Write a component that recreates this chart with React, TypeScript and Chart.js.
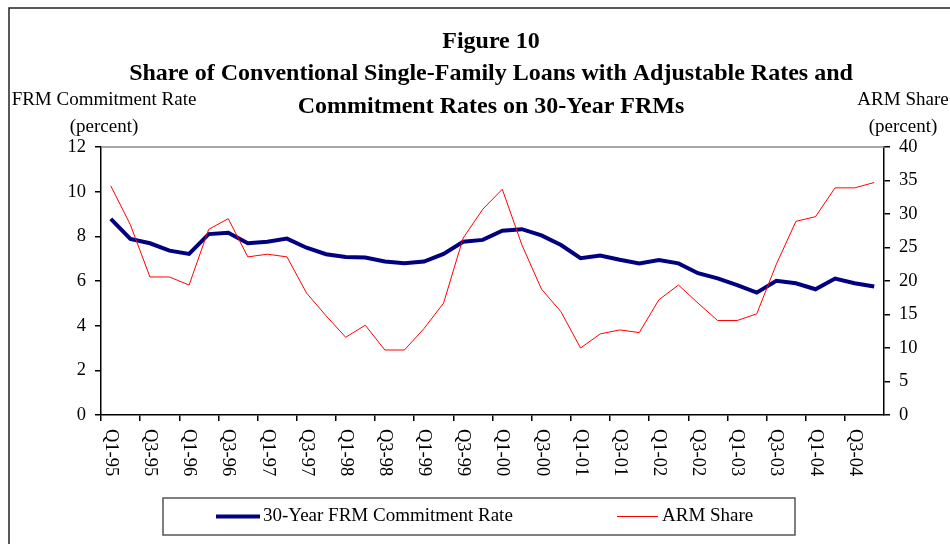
import React, { useEffect, useRef } from "react";
import { Chart, registerables } from "chart.js";

Chart.register(...registerables);

const QUARTERS: string[] = [
  "Q1-95", "Q2-95", "Q3-95", "Q4-95",
  "Q1-96", "Q2-96", "Q3-96", "Q4-96",
  "Q1-97", "Q2-97", "Q3-97", "Q4-97",
  "Q1-98", "Q2-98", "Q3-98", "Q4-98",
  "Q1-99", "Q2-99", "Q3-99", "Q4-99",
  "Q1-00", "Q2-00", "Q3-00", "Q4-00",
  "Q1-01", "Q2-01", "Q3-01", "Q4-01",
  "Q1-02", "Q2-02", "Q3-02", "Q4-02",
  "Q1-03", "Q2-03", "Q3-03", "Q4-03",
  "Q1-04", "Q2-04", "Q3-04", "Q4-04",
];

const FRM_RATE: number[] = [
  8.78, 7.88, 7.69, 7.36,
  7.21, 8.10, 8.16, 7.69,
  7.76, 7.90, 7.49, 7.20,
  7.07, 7.05, 6.87, 6.79,
  6.87, 7.21, 7.76, 7.84,
  8.25, 8.32, 8.04, 7.61,
  7.02, 7.14, 6.95, 6.79,
  6.94, 6.79, 6.35, 6.12,
  5.82, 5.48, 6.01, 5.90,
  5.63, 6.11, 5.90, 5.75,
];

const ARM_SHARE: number[] = [
  34.2, 28.4, 20.6, 20.6,
  19.4, 27.7, 29.3, 23.6,
  24.0, 23.6, 18.2, 14.8,
  11.6, 13.4, 9.7, 9.7,
  12.9, 16.7, 26.4, 30.7,
  33.7, 25.4, 18.8, 15.4,
  10.0, 12.1, 12.7, 12.3,
  17.2, 19.4, 16.7, 14.1,
  14.1, 15.1, 22.5, 28.9,
  29.6, 33.9, 33.9, 34.7,
];

const TITLE_LINES: string[] = [
  "Figure 10",
  "Share of Conventional Single-Family Loans with Adjustable Rates and",
  "Commitment Rates on 30-Year FRMs",
];
const LEFT_AXIS_TITLE: string[] = ["FRM Commitment Rate", "(percent)"];
const RIGHT_AXIS_TITLE: string[] = ["ARM Share", "(percent)"];
const SERIES_NAMES: string[] = ["30-Year FRM Commitment Rate", "ARM Share"];

const FONT = "'Liberation Serif', 'Times New Roman', serif";
const W = 950;
const H = 544;

const decorPlugin = {
  id: "decor",
  afterDraw(chart: any) {
    const ctx = chart.ctx as CanvasRenderingContext2D;
    const area = chart.chartArea;
    const xs = chart.scales.x;
    ctx.save();

    // outer frame
    ctx.strokeStyle = "#222";
    ctx.lineWidth = 1.5;
    ctx.beginPath();
    ctx.moveTo(9, H);
    ctx.lineTo(9, 8);
    ctx.lineTo(W, 8);
    ctx.stroke();

    // top border of plot area
    ctx.strokeStyle = "#888";
    ctx.lineWidth = 1.5;
    ctx.beginPath();
    ctx.moveTo(area.left, area.top);
    ctx.lineTo(area.right, area.top);
    ctx.stroke();

    // title
    ctx.fillStyle = "#000";
    ctx.textAlign = "center";
    ctx.textBaseline = "middle";
    ctx.font = `bold 24px ${FONT}`;
    const ty = [42, 74, 107];
    TITLE_LINES.forEach((t, i) => ctx.fillText(t, 491, ty[i]));

    // axis titles
    ctx.font = `19px ${FONT}`;
    ctx.fillText(LEFT_AXIS_TITLE[0], 104, 100);
    ctx.fillText(LEFT_AXIS_TITLE[1], 104, 127);
    ctx.fillText(RIGHT_AXIS_TITLE[0], 903, 100);
    ctx.fillText(RIGHT_AXIS_TITLE[1], 903, 127);

    // rotated x labels (every other quarter)
    ctx.font = `18.5px ${FONT}`;
    ctx.textAlign = "left";
    ctx.textBaseline = "middle";
    QUARTERS.forEach((q, i) => {
      if (i % 2 !== 0) return;
      const x = xs.getPixelForValue(i);
      ctx.save();
      ctx.translate(x, area.bottom + 14);
      ctx.rotate(Math.PI / 2);
      ctx.fillText(q, 0, 0);
      ctx.restore();
    });

    // legend box
    ctx.font = `19px ${FONT}`;
    const ds = chart.data.datasets;
    ctx.strokeStyle = "#555";
    ctx.lineWidth = 1.5;
    ctx.strokeRect(163, 498, 632, 37);
    const ly = 516.5;
    const items = [
      { x0: 216, x1: 260, tx: 263, i: 0 },
      { x0: 617, x1: 658, tx: 662, i: 1 },
    ];
    items.forEach((it) => {
      ctx.strokeStyle = ds[it.i].borderColor;
      ctx.lineWidth = ds[it.i].borderWidth;
      ctx.beginPath();
      ctx.moveTo(it.x0, ly);
      ctx.lineTo(it.x1, ly);
      ctx.stroke();
      ctx.fillStyle = "#000";
      ctx.fillText(SERIES_NAMES[it.i], it.tx, ly);
    });

    ctx.restore();
  },
};

export default function App() {
  const ref = useRef<HTMLCanvasElement | null>(null);

  useEffect(() => {
    if (!ref.current) return;
    const chart = new Chart(ref.current, {
      type: "line",
      data: {
        labels: QUARTERS,
        datasets: [
          {
            label: SERIES_NAMES[0],
            data: FRM_RATE,
            yAxisID: "y",
            borderColor: "#000080",
            backgroundColor: "#000080",
            borderWidth: 4,
            pointRadius: 0,
            tension: 0,
            order: 1,
          },
          {
            label: SERIES_NAMES[1],
            data: ARM_SHARE,
            yAxisID: "y1",
            borderColor: "#FF0000",
            backgroundColor: "#FF0000",
            borderWidth: 1,
            pointRadius: 0,
            tension: 0,
            order: 0,
          },
        ],
      },
      options: {
        responsive: false,
        animation: false,
        devicePixelRatio: 1,
        layout: { padding: { top: 147, left: 0, right: 0, bottom: 0 } },
        plugins: {
          legend: { display: false },
          title: { display: false },
          tooltip: { enabled: false },
        },
        scales: {
          x: {
            type: "category",
            offset: true,
            grid: {
              offset: true,
              drawOnChartArea: false,
              drawTicks: true,
              tickLength: 6,
              lineWidth: 1.5,
              color: (c: any) => (c.index % 2 === 0 ? "#000" : "rgba(0,0,0,0)"),
            },
            border: { color: "#000", width: 1.5 },
            ticks: { display: false },
            afterFit: (s: any) => {
              s.height = H - 415;
            },
          },
          y: {
            position: "left",
            min: 0,
            max: 12,
            ticks: {
              stepSize: 2,
              color: "#000",
              padding: 9,
              font: { family: FONT, size: 18.5 },
            },
            grid: { drawOnChartArea: false, tickLength: 6, color: "#000", lineWidth: 1.5 },
            border: { color: "#000", width: 1.5 },
            afterFit: (s: any) => {
              s.width = 101;
            },
          },
          y1: {
            position: "right",
            min: 0,
            max: 40,
            ticks: {
              stepSize: 5,
              color: "#000",
              padding: 9,
              font: { family: FONT, size: 18.5 },
            },
            grid: { drawOnChartArea: false, tickLength: 6, color: "#000", lineWidth: 1.5 },
            border: { color: "#000", width: 1.5 },
            afterFit: (s: any) => {
              s.width = W - 884;
            },
          },
        },
      },
      plugins: [decorPlugin],
    });
    return () => chart.destroy();
  }, []);

  return (
    <div style={{ position: "absolute", left: 0, top: 0, width: W, height: H, background: "#fff" }}>
      <canvas ref={ref} width={W} height={H} style={{ display: "block", width: W, height: H }} />
    </div>
  );
}
